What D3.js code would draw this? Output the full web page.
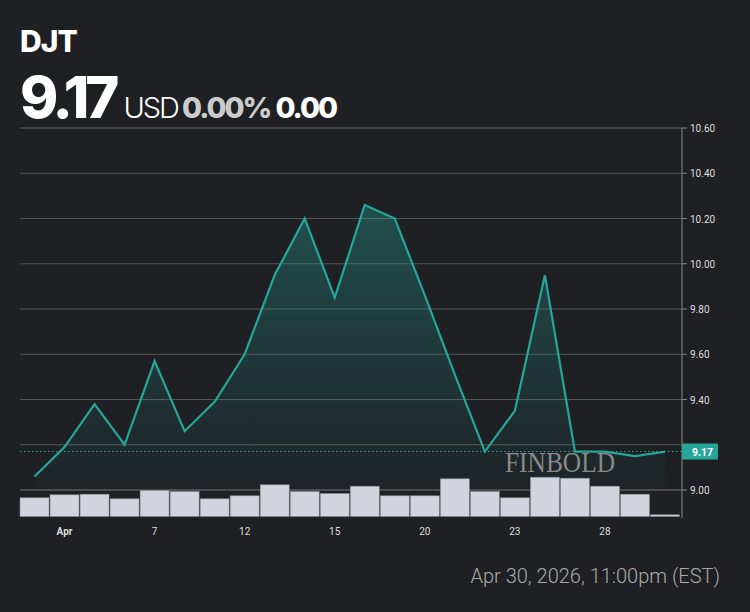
<!DOCTYPE html>
<html><head><meta charset="utf-8">
<script src="https://cdn.jsdelivr.net/npm/d3@7"></script>
<style>body{margin:0;background:#1e2024}</style></head>
<body><svg id="c" width="750" height="612"></svg>
<script>
const prices=[9.06,9.19,9.38,9.20,9.57,9.26,9.39,9.60,9.95,10.20,9.85,10.26,10.20,9.86,9.51,9.17,9.35,9.95,9.17,9.17,9.15,9.17];
const volumes=[18.7,21.7,22.3,17.7,26,25,17.7,20.7,31.7,25,23,30.3,20.7,20.7,37.7,25,18.7,39.3,38.3,30.3,22.3,1.7];
const tickIdx=[1,4,7,10,13,16,19];
const tickLabels=["Apr","7","12","15","20","23","28"];
const yTicks=[9.00,9.20,9.40,9.60,9.80,10.00,10.20,10.40,10.60];
const last=9.17;

const svg=d3.select("#c");
svg.append("rect").attr("width",750).attr("height",612).attr("fill","#1e2024");
const x=d3.scaleLinear().domain([0,21]).range([34.5,665]);
const y=d3.scaleLinear().domain([9,10.6]).range([490,128]);
const vy=d3.scaleLinear().domain([0,40]).range([516.5,476.5]);
const defs=svg.append("defs");
const g=defs.append("linearGradient").attr("id","gr").attr("x1",0).attr("x2",0).attr("y1",0).attr("y2",1);
g.append("stop").attr("offset","0%").attr("stop-color","#26a69a").attr("stop-opacity",0.35);
g.append("stop").attr("offset","100%").attr("stop-color","#26a69a").attr("stop-opacity",0.02);

svg.append("line").attr("x1",20).attr("x2",682).attr("y1",128).attr("y2",128).attr("stroke","#666");
yTicks.forEach(t=>{
  if(t>9&&t<10.6) svg.append("line").attr("x1",20).attr("x2",682).attr("y1",y(t)).attr("y2",y(t)).attr("stroke","#555");
  svg.append("line").attr("x1",682).attr("x2",687).attr("y1",y(t)).attr("y2",y(t)).attr("stroke","#888");
  if(t!==9.2) svg.append("text").attr("x",690).attr("y",y(t)+4).attr("fill","#ddd").attr("font-family","Roboto").attr("font-size",10).text(t.toFixed(2));
});
svg.append("line").attr("x1",682).attr("x2",682).attr("y1",128).attr("y2",518).attr("stroke","#888");

svg.append("path").datum(prices).attr("fill","url(#gr)")
 .attr("d",d3.area().x((d,i)=>x(i)).y0(490).y1(d=>y(d)));
svg.append("text").attr("x",560).attr("y",472).attr("text-anchor","middle").attr("fill","#888").attr("font-family","Liberation Serif").attr("font-size",30).attr("textLength",110).attr("lengthAdjust","spacingAndGlyphs").text("FINBOLD");
svg.append("line").attr("x1",20).attr("x2",682).attr("y1",y(9)).attr("y2",y(9)).attr("stroke","#777");
const bw=30;
svg.selectAll(".v").data(volumes).join("rect")
 .attr("x",(d,i)=>x(i)-bw/2+0.5).attr("width",bw-1).attr("y",d=>vy(d)).attr("height",d=>516.5-vy(d))
 .attr("fill","#d1d4dc").attr("stroke","#888").attr("stroke-width",0.6);
svg.append("path").datum(prices).attr("fill","none").attr("stroke","#26a69a").attr("stroke-width",2.2)
 .attr("d",d3.line().x((d,i)=>x(i)).y(d=>y(d)));
svg.append("line").attr("x1",20).attr("x2",682).attr("y1",y(last)).attr("y2",y(last)).attr("stroke","#26a69a").attr("stroke-dasharray","1.5,2.5");
svg.append("rect").attr("x",682).attr("y",y(last)-8).attr("width",36).attr("height",16).attr("rx",1).attr("fill","#26a69a");
svg.append("text").attr("x",692).attr("y",y(last)+4).attr("fill","#fff").attr("font-family","Roboto").attr("font-weight","bold").attr("font-size",10.5).text(last.toFixed(2));
tickIdx.forEach((ti,k)=>{
  svg.append("text").attr("x",x(ti)).attr("y",535).attr("text-anchor","middle").attr("fill","#ddd").attr("font-family","Roboto").attr("font-size",10).attr("font-weight",k==0?"bold":"normal").text(tickLabels[k]);
});
svg.append("text").attr("x",20).attr("y",52).attr("fill","#fff").attr("font-family","Inter").attr("font-weight","800").attr("font-size",30).attr("letter-spacing",-1).text("DJT");
const h=svg.append("text").attr("x",20).attr("y",118).attr("font-family","Inter");
h.append("tspan").attr("fill","#fff").attr("font-weight","800").attr("font-size",58).attr("letter-spacing",-4).text("9.17");
h.append("tspan").attr("dx",8).attr("fill","#fff").attr("font-weight","300").attr("font-size",29).attr("letter-spacing",-2).text("USD");
h.append("tspan").attr("dx",4).attr("fill","#ccc").attr("font-weight","800").attr("font-size",29).attr("letter-spacing",-2).text("0.00%");
h.append("tspan").attr("dx",5).attr("fill","#fff").attr("font-weight","800").attr("font-size",29).attr("letter-spacing",-2).text("0.00");
svg.append("text").attr("x",720).attr("y",583).attr("text-anchor","end").attr("fill","#aaa").attr("font-family","Roboto").attr("font-weight","300").attr("font-size",20).text("Apr 30, 2026, 11:00pm (EST)");
</script></body></html>
